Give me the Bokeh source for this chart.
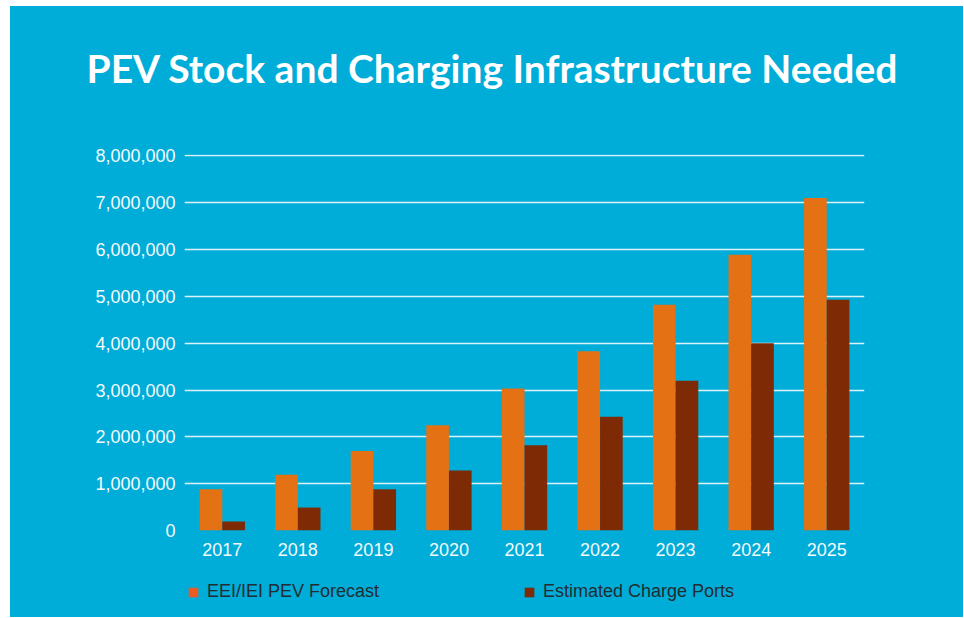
from bokeh.plotting import figure
from bokeh.layouts import column
from bokeh.models import (ColumnDataSource, FactorRange, Range1d, FixedTicker,
                          NumeralTickFormatter, Title, Legend, LegendItem)
from bokeh.transform import dodge
from bokeh.embed import file_html
from bokeh.resources import INLINE

years = ["2017", "2018", "2019", "2020", "2021", "2022", "2023", "2024", "2025"]
pev_forecast = [880000, 1190000, 1700000, 2250000, 3030000, 3830000, 4820000, 5890000, 7100000]
charge_ports = [190000, 490000, 880000, 1280000, 1820000, 2430000, 3200000, 4000000, 4930000]
y_ticks = [0, 1000000, 2000000, 3000000, 4000000, 5000000, 6000000, 7000000, 8000000]
series_names = ["EEI/IEI PEV Forecast", "Estimated Charge Ports"]
title_text = "PEV Stock and Charging Infrastructure Needed"

BG = "#00ACD8"
ORANGE = "#E47215"
DARK = "#7E2A05"
LEGEND_ORANGE = "#EE5A26"


def strip(height, top, bottom):
    f = figure(width=953, height=height, output_backend="svg", toolbar_location=None,
               x_axis_location=None, y_axis_location=None,
               x_range=Range1d(0, 1), y_range=Range1d(0, 1),
               min_border_left=174, min_border_right=99,
               min_border_top=top, min_border_bottom=bottom)
    f.background_fill_alpha = 0
    f.border_fill_color = BG
    f.outline_line_color = None
    f.xgrid.grid_line_color = None
    f.ygrid.grid_line_color = None
    return f


# title strip
hd = strip(100, 84, 0)
hd.title = Title(text=title_text, align="left", offset=-98, standoff=0,
                 text_color="white", text_font="Lato", text_font_style="bold",
                 text_font_size="39px")

# main chart
src = ColumnDataSource(dict(year=years, pev=pev_forecast, ports=charge_ports))

p = figure(width=953, height=465, x_range=FactorRange(*years, range_padding=0),
           y_range=Range1d(0, 8030000), output_backend="svg", toolbar_location=None,
           min_border_left=174, min_border_right=99, min_border_top=48,
           min_border_bottom=41)
p.background_fill_alpha = 0
p.border_fill_color = BG
p.outline_line_color = None

p.vbar(x=dodge("year", -0.15, range=p.x_range), top="pev", width=0.3,
       source=src, color=ORANGE, line_color=None)
p.vbar(x=dodge("year", 0.15, range=p.x_range), top="ports", width=0.3,
       source=src, color=DARK, line_color=None)

p.yaxis.ticker = FixedTicker(ticks=y_ticks)
p.yaxis.formatter = NumeralTickFormatter(format="0,0")
for ax in (p.xaxis[0], p.yaxis[0]):
    ax.axis_line_color = None
    ax.major_tick_line_color = None
    ax.minor_tick_line_color = None
    ax.major_label_text_color = "#F4FBFD"
    ax.major_label_text_font = "Liberation Sans"
    ax.major_label_text_font_size = "18px"
p.yaxis.major_label_standoff = 3
p.xaxis.major_label_standoff = 6

p.xgrid.grid_line_color = None
p.ygrid.ticker = FixedTicker(ticks=y_ticks)
p.ygrid.grid_line_color = "white"
p.ygrid.grid_line_alpha = 0.85
p.ygrid.grid_line_width = 1.5

# legend strip
lg = strip(46, 0, 0)
d1 = lg.vbar(x=[-5], top=[-5], width=0.1, color=LEGEND_ORANGE, line_color=None)
d2 = lg.vbar(x=[-5], top=[-5], width=0.1, color=DARK, line_color=None)
legend = Legend(items=[LegendItem(label=series_names[0], renderers=[d1]),
                       LegendItem(label=series_names[1], renderers=[d2])],
                orientation="horizontal", location=(3, 15),
                background_fill_alpha=0, border_line_alpha=0,
                label_text_font="Liberation Sans", label_text_font_size="18px",
                label_text_color="#222D33", glyph_width=12, glyph_height=12,
                label_standoff=8, label_width=296, spacing=20,
                padding=0, margin=0)
lg.add_layout(legend)

layout = column(hd, p, lg, spacing=0)
layout.margin = (6, 0, 0, 10)
layout.styles = {"background-color": BG}

open("out.html", "w").write(file_html(layout, INLINE))
